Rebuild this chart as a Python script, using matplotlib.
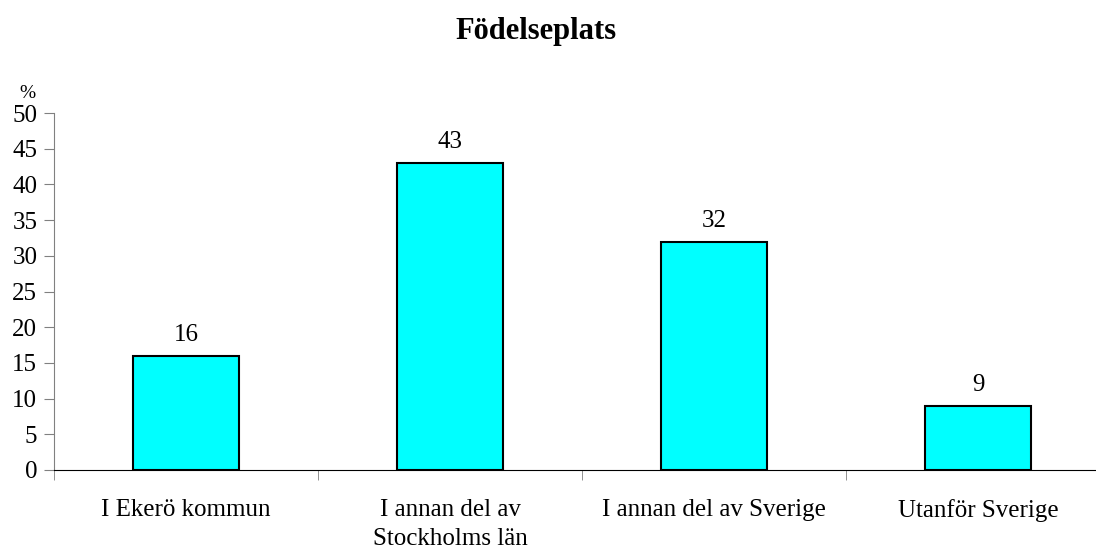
import numpy as np
import matplotlib.pyplot as plt

categories = ["I Ekerö kommun", "I annan del av\nStockholms län",
              "I annan del av Sverige", "Utanför Sverige"]
values = [16, 43, 32, 9]

plt.rcParams['font.family'] = ['Liberation Serif', 'DejaVu Serif']

fig = plt.figure(figsize=(10.96, 5.49), dpi=100)
ax = fig.add_axes([54 / 1096, 1 - 470 / 549, 1 - 54 / 1096, (470 - 113) / 549])

x = np.arange(len(categories))
ax.bar(x, values, width=0.4, color="#00FFFF", edgecolor="black", linewidth=1.5)
for xi, v in zip(x, values):
    ax.annotate(str(v), (xi, v), xytext=(0, 7), textcoords="offset points",
                ha="center", va="bottom", fontsize=18)

ax.set_yticks(np.arange(0, 51, 5))
ax.set_xticks(x)
ax.set_xticklabels(categories, fontsize=18, linespacing=1.4)
ax.set_xticks(np.arange(-0.5, 4, 1), minor=True)
# ticks can stretch the view, so set the limits last
ax.set_xlim(-0.5, 3.5 - 14 / 264)
ax.set_ylim(0, 50)
ax.tick_params(axis="x", which="major", length=0, pad=21)
ax.tick_params(axis="x", which="minor", length=7, direction="out", color="#808080")
ax.tick_params(axis="y", labelsize=18, length=7, pad=5, direction="out", color="#808080")
ax.spines["left"].set_color("#808080")
for s in ["top", "right"]:
    ax.spines[s].set_visible(False)

fig.text(27 / 1096, 1 - 93 / 549, "%", fontsize=14, ha="center", va="center")
fig.text(536 / 1096, 1 - 32 / 549, "Födelseplats", fontsize=22, fontweight="bold",
         ha="center", va="center")

fig.savefig("out.png", dpi=100)
